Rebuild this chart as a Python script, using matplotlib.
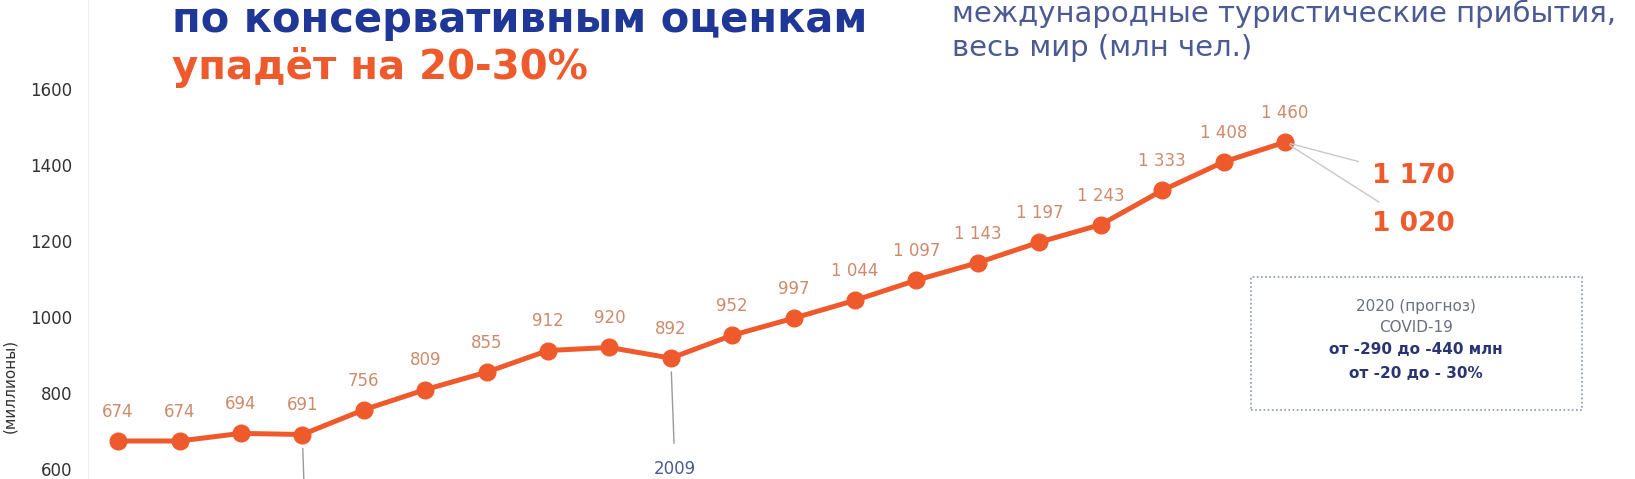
import matplotlib.pyplot as plt

# международные туристические прибытия, млн чел.
years = list(range(2000, 2020))
arrivals = [674, 674, 694, 691, 756, 809, 855, 912, 920, 892,
            952, 997, 1044, 1097, 1143, 1197, 1243, 1333, 1408, 1460]
yticks = [600, 800, 1000, 1200, 1400, 1600]
forecast = ["1 170", "1 020"]
box_lines = ["2020 (прогноз)", "COVID-19", "от -290 до -440 млн", "от -20 до - 30%"]

W, H = 1635, 479
ORANGE = '#ef5a2c'
LABEL = '#cf8a6c'
NAVY = '#1f3796'
SLATE = '#4b5a93'


def fx(px):
    return px / W


def fy(py):
    return 1 - py / H


plt.rcParams['font.family'] = ['DejaVu Sans']
fig = plt.figure(figsize=(W / 100, H / 100), dpi=100)
ax = fig.add_axes([fx(88), 0, 1 - fx(88), 1])

ax.plot(years, arrivals, color=ORANGE, lw=3.6, marker='o', ms=12,
        markeredgecolor=ORANGE, zorder=3)
for x, v in zip(years, arrivals):
    ax.annotate(f"{v:,}".replace(',', ' '), (x, v), xytext=(0, 21),
                textcoords='offset points', ha='center', va='center',
                fontsize=12, color=LABEL)

ax.set_xlim(1999.51, 2024.7)
ax.set_ylim(574, 1834)
ax.set_yticks(yticks)
ax.set_xticks([])
ax.tick_params(axis='y', length=0, pad=11, labelsize=12, labelcolor='#333333')
for s in ['top', 'right', 'bottom']:
    ax.spines[s].set_visible(False)
ax.spines['left'].set_color('#eeeeee')

fig.text(fx(10), fy(386), '(миллионы)', rotation=90, ha='center', va='center',
         fontsize=11, color='#333333')

# заголовок
fig.text(fx(172), fy(20), 'по консервативным оценкам', fontsize=30,
         fontweight='heavy', color=NAVY, va='center')
fig.text(fx(172), fy(68), 'упадёт на 20-30%', fontsize=29,
         fontweight='heavy', color=ORANGE, va='center')
fig.text(fx(952), fy(14), 'международные туристические прибытия,',
         fontsize=21, color=SLATE, va='center')
fig.text(fx(952), fy(48), 'весь мир (млн чел.)',
         fontsize=21, color=SLATE, va='center')

# прогноз на 2020
last = (years[-1], arrivals[-1])
for txt, ty in zip(forecast, [176, 224]):
    ax.annotate(txt, last, xytext=(fx(1372), fy(ty)), textcoords='figure fraction',
                ha='left', va='center', fontsize=19, fontweight='bold',
                color=ORANGE,
                arrowprops=dict(arrowstyle='-', color='#c8c8c8', lw=1,
                                shrinkA=8, shrinkB=4))

box = plt.Rectangle((fx(1251), fy(410)), fx(1582) - fx(1251), fy(277) - fy(410),
                    transform=fig.transFigure, fill=False, ec='#8a93b8',
                    ls=(0, (1, 1.5)), lw=1.2)
fig.add_artist(box)
for i, (txt, ty) in enumerate(zip(box_lines, [306, 327, 350, 373])):
    bold = i >= 2
    fig.text(fx(1416), fy(ty), txt, ha='center', va='center', fontsize=11,
             color='#2a3470' if bold else '#6a6f80',
             fontweight='bold' if bold else 'normal')

# 2009
ax.annotate('2009', (2009, arrivals[9]), xytext=(fx(675), fy(469)),
            textcoords='figure fraction', ha='center', va='center',
            fontsize=12, color=SLATE,
            arrowprops=dict(arrowstyle='-', color='#999999', lw=1,
                            shrinkA=10, shrinkB=10))
# начало линии к 2003
ax.annotate('', (2003, arrivals[3]), xytext=(fx(304), fy(485)),
            textcoords='figure fraction',
            arrowprops=dict(arrowstyle='-', color='#999999', lw=1,
                            shrinkA=0, shrinkB=10))

fig.savefig('out.png', dpi=100, facecolor='white')
